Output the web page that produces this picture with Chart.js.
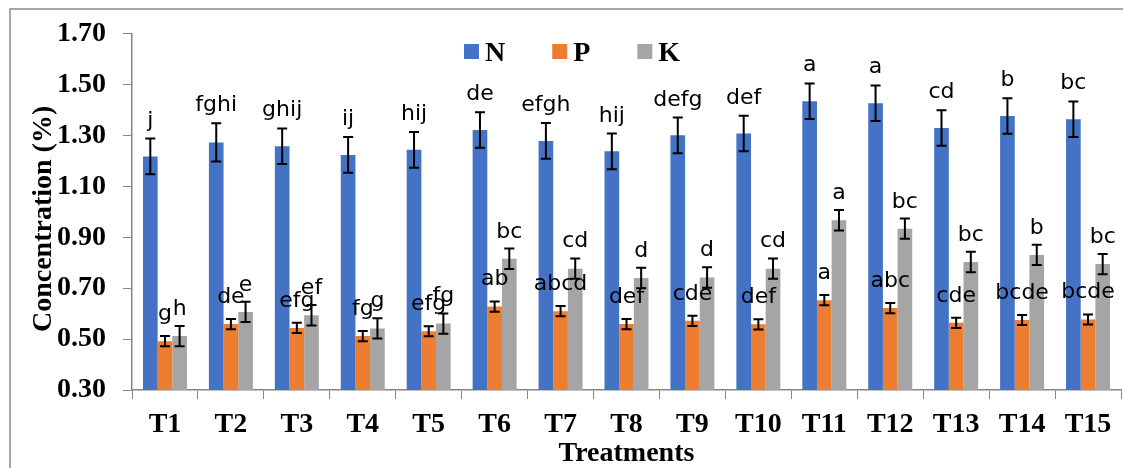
<!DOCTYPE html>
<html lang="en">
<head>
<meta charset="UTF-8">
<title>NPK Concentration</title>
<script src="https://cdn.jsdelivr.net/npm/chart.js"></script>
<style>
  body { margin: 0; background: #fff; }
  #wrap { width: 1123px; height: 468px; }
</style>
</head>
<body>
<div id="wrap"><canvas id="npkChart" width="1123" height="468"></canvas></div>
<script>
// data
const treatments = ['T1', 'T2', 'T3', 'T4', 'T5', 'T6', 'T7', 'T8', 'T9', 'T10', 'T11', 'T12', 'T13', 'T14', 'T15'];
const nValues = [1.218, 1.273, 1.258, 1.224, 1.244, 1.322, 1.279, 1.238, 1.301, 1.308, 1.435, 1.427, 1.330, 1.377, 1.364];
const pValues = [0.492, 0.559, 0.544, 0.512, 0.531, 0.628, 0.610, 0.559, 0.572, 0.558, 0.653, 0.622, 0.564, 0.575, 0.577];
const kValues = [0.512, 0.607, 0.594, 0.542, 0.561, 0.816, 0.777, 0.740, 0.742, 0.777, 0.967, 0.934, 0.803, 0.831, 0.795];
const nErrors = [0.07, 0.075, 0.07, 0.07, 0.07, 0.07, 0.07, 0.07, 0.07, 0.07, 0.07, 0.07, 0.07, 0.07, 0.07];
const pErrors = [0.02, 0.02, 0.02, 0.02, 0.02, 0.02, 0.02, 0.02, 0.02, 0.02, 0.02, 0.02, 0.02, 0.02, 0.02];
const kErrors = [0.04, 0.04, 0.04, 0.04, 0.04, 0.04, 0.04, 0.04, 0.04, 0.04, 0.04, 0.04, 0.04, 0.04, 0.04];
const nLetters = ['j', 'fghi', 'ghij', 'ij', 'hij', 'de', 'efgh', 'hij', 'defg', 'def', 'a', 'a', 'cd', 'b', 'bc'];
const pLetters = ['g', 'de', 'efg', 'fg', 'efg', 'ab', 'abcd', 'def', 'cde', 'def', 'a', 'abc', 'cde', 'bcde', 'bcde'];
const kLetters = ['h', 'e', 'ef', 'g', 'fg', 'bc', 'cd', 'd', 'd', 'cd', 'a', 'bc', 'bc', 'b', 'bc'];
const yTicks = [0.30, 0.50, 0.70, 0.90, 1.10, 1.30, 1.50, 1.70];

const axisGray = '#868686';
const serifBold = { family: '"Liberation Serif", "Times New Roman", serif', size: 28, weight: 'bold' };

// frame around the whole figure
const framePlugin = {
    id: 'frame',
    beforeDraw(chart) {
        const ctx = chart.ctx;
        ctx.save();
        ctx.fillStyle = '#fff';
        ctx.fillRect(0, 0, chart.width, chart.height);
        ctx.strokeStyle = '#8c8c8c';
        ctx.lineWidth = 1.5;
        ctx.beginPath();
        ctx.moveTo(10, chart.height);
        ctx.lineTo(10, 9);
        ctx.lineTo(chart.width, 9);
        ctx.stroke();
        ctx.restore();
    }
};

// error bars + significance letters
const errorPlugin = {
    id: 'errorLetters',
    afterDatasetsDraw(chart) {
        const ctx = chart.ctx;
        const y = chart.scales.y;
        chart.data.datasets.forEach((ds, i) => {
            const meta = chart.getDatasetMeta(i);
            meta.data.forEach((bar, j) => {
                const top = y.getPixelForValue(ds.data[j] + ds.errors[j]);
                const bottom = y.getPixelForValue(ds.data[j] - ds.errors[j]);
                ctx.save();
                ctx.strokeStyle = '#000';
                ctx.lineWidth = 2;
                ctx.beginPath();
                ctx.moveTo(bar.x, top); ctx.lineTo(bar.x, bottom);
                ctx.moveTo(bar.x - 5, top); ctx.lineTo(bar.x + 5, top);
                ctx.moveTo(bar.x - 5, bottom); ctx.lineTo(bar.x + 5, bottom);
                ctx.stroke();
                ctx.font = '22px "DejaVu Sans"';
                ctx.textAlign = 'center';
                ctx.textBaseline = 'alphabetic';
                ctx.fillStyle = '#000';
                ctx.fillText(ds.letters[j], bar.x, top - ds.letterGap);
                ctx.restore();
            });
        });
    }
};

// legend drawn like the excel one (small gap between box and text)
const legendPlugin = {
    id: 'npkLegend',
    afterDraw(chart) {
        const ctx = chart.ctx;
        let x = 464;
        ctx.save();
        ctx.font = 'bold 28px "Liberation Serif"';
        ctx.textBaseline = 'alphabetic';
        chart.data.datasets.forEach(ds => {
            ctx.fillStyle = ds.backgroundColor;
            ctx.fillRect(x, 44, 15, 15);
            ctx.fillStyle = '#000';
            ctx.fillText(ds.label, x + 21, 61);
            x += 21 + ctx.measureText(ds.label).width + 47;
        });
        ctx.restore();
    }
};

const ctx = document.getElementById('npkChart').getContext('2d');
const npkChart = new Chart(ctx, {
    type: 'bar',
    data: {
        labels: treatments,
        datasets: [
            { label: 'N', data: nValues, errors: nErrors, letters: nLetters, letterGap: 12, backgroundColor: '#4472C4' },
            { label: 'P', data: pValues, errors: pErrors, letters: pLetters, letterGap: 16, backgroundColor: '#ED7D31' },
            { label: 'K', data: kValues, errors: kErrors, letters: kLetters, letterGap: 11, backgroundColor: '#A5A5A5' }
        ]
    },
    options: {
        responsive: false,
        animation: false,
        layout: { padding: { left: 0, top: 33, right: 2, bottom: 0 } },
        datasets: { bar: { categoryPercentage: 0.667, barPercentage: 1.0 } },
        plugins: {
            legend: { display: false },
            tooltip: { enabled: false }
        },
        scales: {
            x: {
                grid: { display: true, drawOnChartArea: false, offset: true, tickLength: 9, color: axisGray },
                border: { color: axisGray, width: 1.5 },
                ticks: { color: '#000', font: serifBold, padding: 9, maxRotation: 0 },
                title: { display: true, text: 'Treatments', color: '#000', font: serifBold, padding: { top: 0, bottom: -3 } },
                afterFit(scale) { scale.height = 78; }
            },
            y: {
                min: 0.3,
                max: 1.7,
                afterBuildTicks(scale) { scale.ticks = yTicks.map(v => ({ value: v })); },
                grid: { display: true, drawOnChartArea: false, tickLength: 9, color: axisGray },
                border: { color: axisGray, width: 1.5 },
                ticks: {
                    color: '#000',
                    font: serifBold,
                    padding: 17,
                    callback: v => Number(v).toFixed(2)
                },
                title: { display: true, text: 'Concentration (%)  ', color: '#000', font: serifBold, padding: { top: 27, bottom: 0 } },
                afterFit(scale) { scale.width = 132; }
            }
        }
    },
    plugins: [framePlugin, errorPlugin, legendPlugin]
});
</script>
</body>
</html>
